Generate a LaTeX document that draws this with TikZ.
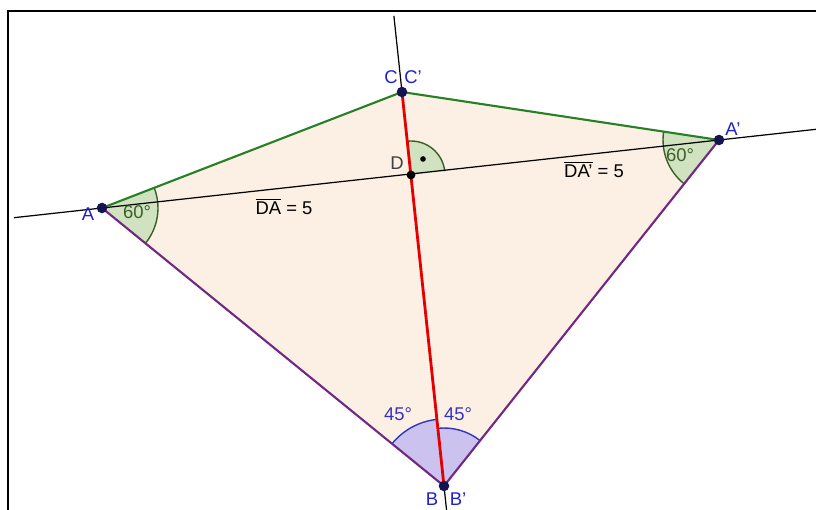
\documentclass[tikz,border=0pt]{standalone}
\usepackage{fontspec}
\setmainfont{Liberation Sans}
\usepackage{tikz}
\usetikzlibrary{angles,calc}

\definecolor{kitefill}{RGB}{252,239,227}
\definecolor{topedge}{RGB}{40,128,36}
\definecolor{lowedge}{RGB}{112,40,132}
\definecolor{axisred}{RGB}{228,0,0}
\definecolor{greenfill}{RGB}{208,226,192}
\definecolor{greenarc}{RGB}{58,96,40}
\definecolor{lilacfill}{RGB}{204,194,240}
\definecolor{bluearc}{RGB}{52,52,196}
\definecolor{ptblue}{RGB}{32,32,200}
\definecolor{ptdark}{RGB}{20,20,80}

\begin{document}
\begin{tikzpicture}[x=0.02cm, y=0.02cm,
        font=\fontsize{10.5}{12}\selectfont,
        axisline/.style={black, line width=0.7pt},
        upperside/.style={topedge, line width=1.2pt},
        lowerside/.style={lowedge, line width=1.2pt},
        mirror/.style={axisred, line width=1.6pt},
        greenangle/.style={draw=greenarc, fill=greenfill, line width=0.8pt},
        lilacangle/.style={draw=bluearc, fill=lilacfill, line width=0.8pt},
        pointdot/.style={circle, fill=ptdark, inner sep=0pt, minimum size=6pt},
        ptlabel/.style={text=ptblue, inner sep=1pt},
        anglabel/.style={inner sep=1pt}
    ]
        \useasboundingbox (0,0) rectangle (816,510);
        % frame
        \draw[line width=1.2pt] (8,0) -- (8,499) -- (816,499);

        % points
        \coordinate (A) at (102,302);
        \coordinate (Ap) at (719,370);
        \coordinate (C) at (402,418);
        \coordinate (B) at (444,24);
        \coordinate (D) at (411,335);
        \coordinate (axleft) at ($(A)!-0.1426!(Ap)$);
        \coordinate (axright) at ($(A)!1.157!(Ap)$);
        \coordinate (axtop) at ($(C)!-0.193!(B)$);
        \coordinate (axbottom) at ($(C)!1.061!(B)$);

        % kite
        \fill[kitefill] (A) -- (C) -- (Ap) -- (B) -- cycle;

        % angles
        \pic[greenangle, angle radius=1.12cm] {angle=B--A--C};
        \pic[greenangle, angle radius=1.12cm] {angle=C--Ap--B};
        \pic[greenangle, angle radius=0.68cm] {angle=Ap--D--C};
        \pic[lilacangle, angle radius=1.34cm] {angle=C--B--A};
        \pic[lilacangle, angle radius=1.16cm] {angle=Ap--B--C};
        \fill[black] (423,351) circle (1.6pt);

        % lines
        \draw[axisline] (axleft) -- (axright);
        \draw[axisline] (axtop) -- (axbottom);
        \draw[upperside] (A) -- (C) -- (Ap);
        \draw[lowerside] (A) -- (B) -- (Ap);
        \draw[mirror] (C) -- (B);

        \node[pointdot] at (A) {};
        \node[pointdot] at (Ap) {};
        \node[pointdot] at (C) {};
        \node[pointdot] at (B) {};
        \node[pointdot, fill=black, minimum size=5pt] at (D) {};

        % labels
        \node[ptlabel] (labA) at (88,296) {A};
        \node[ptlabel] (labAp) at (733,381) {A'};
        \node[ptlabel] (labC) at (391,433) {C};
        \node[ptlabel] (labCp) at (413,433) {C'};
        \node[ptlabel] (labB) at (432,11) {B};
        \node[ptlabel] (labBp) at (458,11) {B'};
        \node[text=black!75, inner sep=1pt] (labD) at (397,347) {D};
        \node[anglabel, text=greenarc] (angA) at (137,298) {60°};
        \node[anglabel, text=greenarc] (angAp) at (680,355) {60°};
        \node[anglabel, text=bluearc] (angBl) at (398,96) {45°};
        \node[anglabel, text=bluearc] (angBr) at (458,96) {45°};
        \node[anglabel] (lenDA) at (284,304) {$\overline{\hbox{DA}}$ = 5};
        \node[anglabel] (lenDAp) at (594,341) {$\overline{\hbox{DA'}}$ = 5};
\end{tikzpicture}
\end{document}
